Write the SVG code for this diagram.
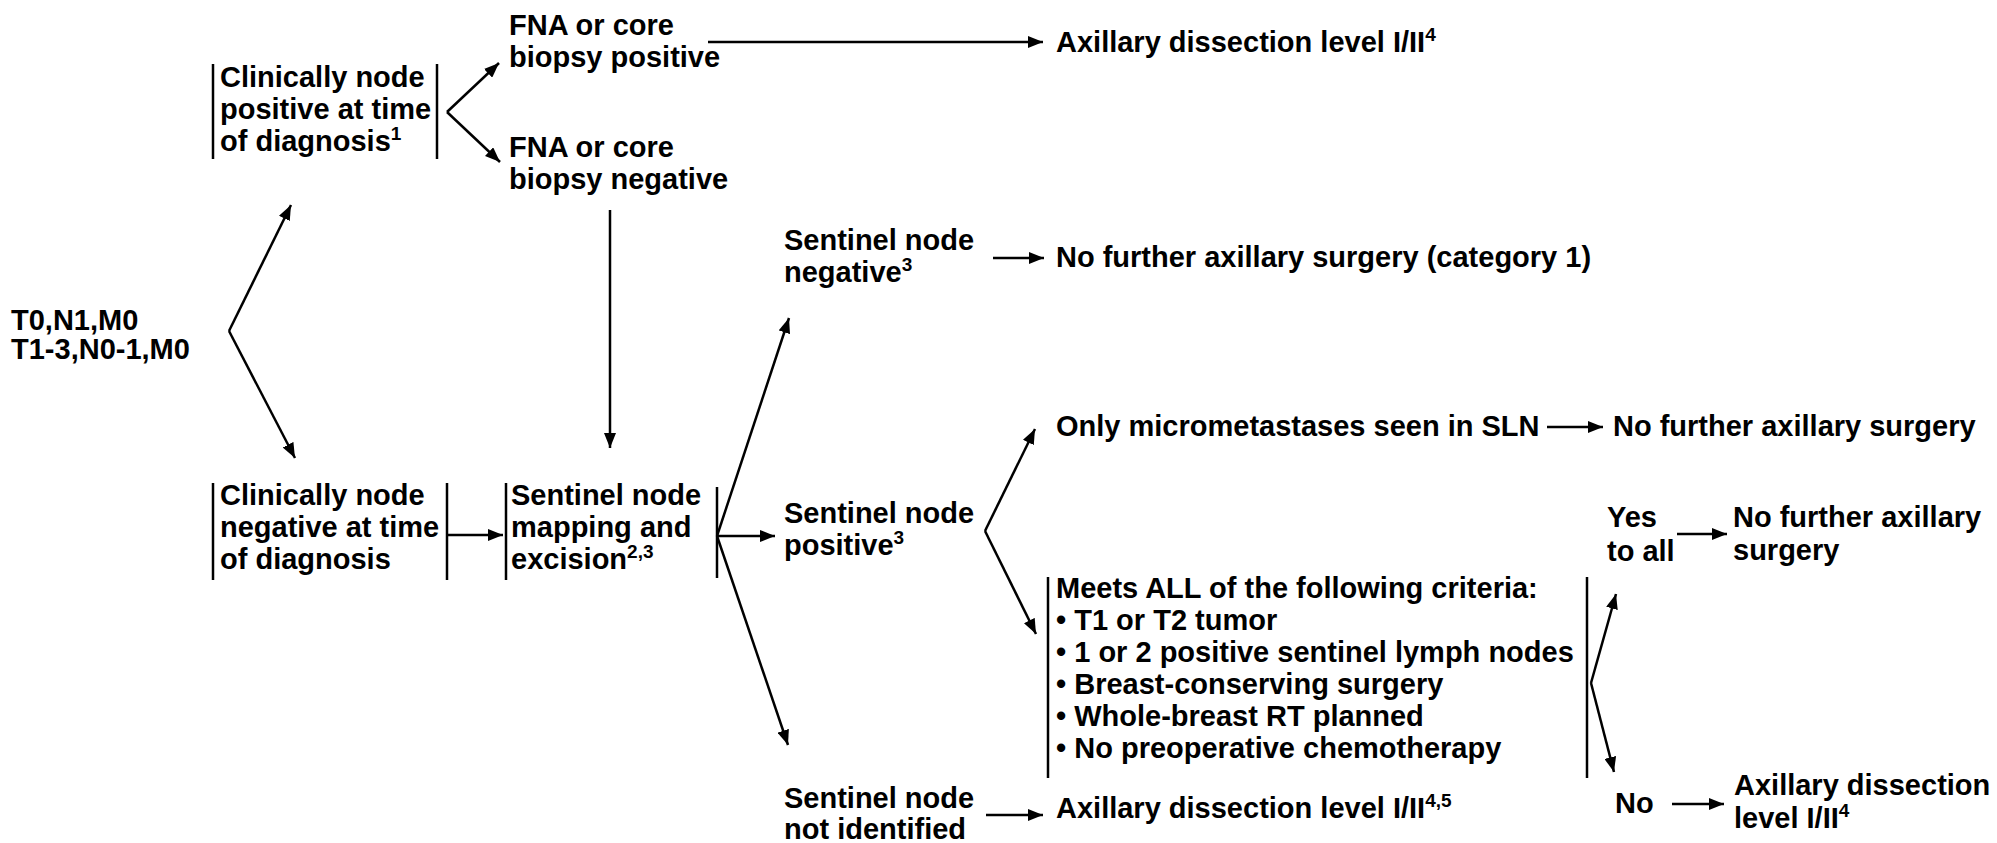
<svg xmlns="http://www.w3.org/2000/svg" width="1997" height="843" viewBox="0 0 1997 843">
  <style>
    text { font-family: "Liberation Sans", Arial, sans-serif; font-weight: bold; font-size: 29px; fill: #000; }
    .sup { font-size: 19px; }
    .bar { stroke: #000; stroke-width: 2.5; fill: none; }
    .link { stroke: #000; stroke-width: 2.5; fill: none; }
    .arrow { marker-end: url(#head); }
  </style>
  <defs>
    <marker id="head" markerUnits="userSpaceOnUse" markerWidth="16" markerHeight="12" refX="15" refY="6" orient="auto">
      <path d="M0,0 L15,6 L0,12 Z" fill="#000"/>
    </marker>
  </defs>
  <rect width="1997" height="843" fill="#fff"/>

  <!-- entry stage -->
  <g id="stage">
    <text x="11" y="330">T0,N1,M0</text>
    <text x="11" y="359">T1-3,N0-1,M0</text>
  </g>

  <g id="cn-positive">
    <line class="bar" x1="213" y1="64" x2="213" y2="159"/>
    <line class="bar" x1="437" y1="64" x2="437" y2="159"/>
    <text x="220" y="87">Clinically node</text>
    <text x="220" y="119">positive at time</text>
    <text x="220" y="151">of diagnosis<tspan class="sup" dy="-11">1</tspan></text>
  </g>

  <g id="cn-negative">
    <line class="bar" x1="213" y1="483" x2="213" y2="580"/>
    <line class="bar" x1="447" y1="483" x2="447" y2="580"/>
    <text x="220" y="505">Clinically node</text>
    <text x="220" y="537">negative at time</text>
    <text x="220" y="569">of diagnosis</text>
  </g>

  <g id="fna-positive">
    <text x="509" y="35">FNA or core</text>
    <text x="509" y="67">biopsy positive</text>
  </g>

  <g id="fna-negative">
    <text x="509" y="157">FNA or core</text>
    <text x="509" y="189">biopsy negative</text>
  </g>

  <g id="alnd-top">
    <text x="1056" y="52">Axillary dissection level I/II<tspan class="sup" dy="-11">4</tspan></text>
  </g>

  <g id="sln-mapping">
    <line class="bar" x1="506" y1="483" x2="506" y2="580"/>
    <line class="bar" x1="717" y1="487" x2="717" y2="578"/>
    <text x="511" y="505">Sentinel node</text>
    <text x="511" y="537">mapping and</text>
    <text x="511" y="569">excision<tspan class="sup" dy="-11">2,3</tspan></text>
  </g>

  <g id="sln-negative">
    <text x="784" y="250">Sentinel node</text>
    <text x="784" y="282">negative<tspan class="sup" dy="-11">3</tspan></text>
  </g>

  <g id="no-surgery-cat1">
    <text x="1056" y="267">No further axillary surgery (category 1)</text>
  </g>

  <g id="sln-positive">
    <text x="784" y="523">Sentinel node</text>
    <text x="784" y="555">positive<tspan class="sup" dy="-11">3</tspan></text>
  </g>

  <g id="sln-not-found">
    <text x="784" y="808">Sentinel node</text>
    <text x="784" y="839">not identified</text>
  </g>

  <g id="micromets">
    <text x="1056" y="436">Only micrometastases seen in SLN</text>
  </g>

  <g id="no-surgery-micro">
    <text x="1613" y="436">No further axillary surgery</text>
  </g>

  <g id="criteria">
    <line class="bar" x1="1048" y1="577" x2="1048" y2="778"/>
    <line class="bar" x1="1587" y1="577" x2="1587" y2="778"/>
    <text x="1056" y="598">Meets ALL of the following criteria:</text>
    <text x="1056" y="630">• T1 or T2 tumor</text>
    <text x="1056" y="662">• 1 or 2 positive sentinel lymph nodes</text>
    <text x="1056" y="694">• Breast-conserving surgery</text>
    <text x="1056" y="726">• Whole-breast RT planned</text>
    <text x="1056" y="758">• No preoperative chemotherapy</text>
  </g>

  <g id="yes-all">
    <text x="1607" y="527">Yes</text>
    <text x="1607" y="561">to all</text>
  </g>

  <g id="no-surgery-criteria">
    <text x="1733" y="527">No further axillary</text>
    <text x="1733" y="560">surgery</text>
  </g>

  <g id="no">
    <text x="1615" y="813">No</text>
  </g>

  <g id="alnd-criteria">
    <text x="1734" y="795">Axillary dissection</text>
    <text x="1734" y="828">level I/II<tspan class="sup" dy="-11">4</tspan></text>
  </g>

  <g id="alnd-not-found">
    <text x="1056" y="818">Axillary dissection level I/II<tspan class="sup" dy="-11">4,5</tspan></text>
  </g>

  <!-- connectors -->
  <g id="connectors">
    <polyline class="link arrow" points="229,331 291,205"/>
    <polyline class="link arrow" points="229,331 295,458"/>
    <polyline class="link arrow" points="447,112 499,63"/>
    <polyline class="link arrow" points="447,112 500,162"/>
    <polyline class="link arrow" points="708,42 1043,42"/>
    <polyline class="link arrow" points="610,210 610,448"/>
    <polyline class="link arrow" points="447,535 503,535"/>
    <polyline class="link arrow" points="717,536 775,536"/>
    <polyline class="link arrow" points="717,536 789,318"/>
    <polyline class="link arrow" points="717,536 788,745"/>
    <polyline class="link arrow" points="993,258 1044,258"/>
    <polyline class="link arrow" points="985,531 1035,429"/>
    <polyline class="link arrow" points="985,531 1036,634"/>
    <polyline class="link arrow" points="1547,427 1603,427"/>
    <polyline class="link arrow" points="986,815 1043,815"/>
    <polyline class="link arrow" points="1591,683 1616,594"/>
    <polyline class="link arrow" points="1591,683 1614,772"/>
    <polyline class="link arrow" points="1677,534 1727,534"/>
    <polyline class="link arrow" points="1672,804 1724,804"/>
  </g>
</svg>
